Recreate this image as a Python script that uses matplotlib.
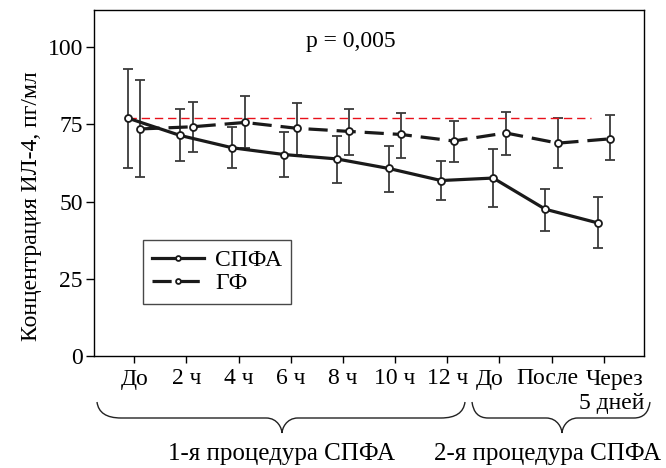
import matplotlib
matplotlib.use("Agg")
import matplotlib.pyplot as plt
import matplotlib.transforms as mtransforms
from matplotlib.path import Path
from matplotlib.patches import PathPatch
import numpy as np

plt.rcParams['font.family'] = ['Liberation Serif', 'DejaVu Serif']

# ---- data ----
tick_labels = ["До", "2 ч", "4 ч", "6 ч", "8 ч", "10 ч", "12 ч", "До", "После", "Через"]
spfa_mean = [77.0, 71.4, 67.4, 65.2, 63.8, 60.7, 56.8, 57.6, 47.5, 43.1]
spfa_up   = [93.0, 80.0, 74.2, 72.6, 71.3, 68.0, 63.1, 67.0, 53.9, 51.6]
spfa_lo   = [61.0, 63.0, 60.7, 58.0, 55.9, 53.2, 50.6, 48.2, 40.6, 35.0]
gf_mean   = [73.5, 74.2, 75.6, 73.7, 72.7, 71.7, 69.6, 72.2, 68.9, 70.3]
gf_up     = [89.3, 82.3, 84.2, 82.0, 80.1, 78.7, 76.2, 79.0, 77.1, 77.9]
gf_lo     = [57.8, 66.1, 67.2, 65.0, 65.0, 64.2, 62.7, 65.2, 60.8, 63.5]
series_names = ["СПФА", "ГФ"]
ref_value = spfa_mean[0]
p_text = "p = 0,005"
group_labels = ["1-я процедура СПФА", "2-я процедура СПФА"]
extra_label = "5 дней"
y_label = "Концентрация ИЛ-4, пг/мл"
y_ticks = [0, 25, 50, 75, 100]

W, H = 666, 468
fig = plt.figure(figsize=(W / 100, H / 100), dpi=100)
ax = fig.add_axes([94 / W, 1 - 356 / H, 550 / W, 346 / H])

x = np.arange(len(tick_labels))
off = 0.12
xs = x - off
xg = x + off

fs = 17

sm = np.array(spfa_mean); gm = np.array(gf_mean)
s_err = [sm - np.array(spfa_lo), np.array(spfa_up) - sm]
g_err = [gm - np.array(gf_lo), np.array(gf_up) - gm]

ax.errorbar(xs, sm, yerr=s_err, fmt='none', ecolor='#3a3a3a', elinewidth=1.3,
            capsize=3.8, capthick=1.3, zorder=2)
ax.errorbar(xg, gm, yerr=g_err, fmt='none', ecolor='#3a3a3a', elinewidth=1.3,
            capsize=3.8, capthick=1.3, zorder=2)

ax.hlines(ref_value, xs[0], 8.75, colors='#e8101a', linestyles=(0, (6, 3.5)),
          linewidth=1.0, zorder=3)

ax.plot(xs, sm, '-', color='#1a1a1a', lw=2.3, marker='o', ms=5, mfc='white',
        mec='#1a1a1a', mew=1.3, label=series_names[0], zorder=4)
ax.plot(xg, gm, color='#1a1a1a', lw=2.3, dashes=(6, 2.8), marker='o', ms=5,
        mfc='white', mec='#1a1a1a', mew=1.3, label=series_names[1], zorder=4)

ax.set_xlim(-0.77, 9.77)
ax.set_ylim(0, 112)
ax.set_yticks(y_ticks)
ax.set_xticks(x)
ax.set_xticklabels(tick_labels, fontsize=fs)
ax.tick_params(axis='y', labelsize=fs, length=6, width=1, pad=2, direction='out')
ax.tick_params(axis='x', length=5, width=1, pad=4, direction='out')
for sp in ax.spines.values():
    sp.set_linewidth(1.0)
ax.set_ylabel(y_label, fontsize=fs)
ax.yaxis.set_label_coords(-0.094, 0.434)

# shift some tick labels to match the crowded right side
lbls = ax.get_xticklabels()
shifts = {7: -10, 8: -4, 9: 11}
for i, dx in shifts.items():
    lbls[i].set_transform(lbls[i].get_transform() +
                          mtransforms.ScaledTranslation(dx / 100, 0, fig.dpi_scale_trans))

ax.text(0.467, 0.908, p_text, transform=ax.transAxes, ha='center', va='center', fontsize=fs)

leg = ax.legend(loc='upper left', bbox_to_anchor=(143 / W, 1 - 240 / H),
                bbox_transform=fig.transFigure, fontsize=fs, frameon=True,
                fancybox=False, edgecolor='#1a1a1a', borderaxespad=0,
                handlelength=2.2, handletextpad=0.45, labelspacing=0.08,
                borderpad=0.4, markerscale=0.7)
leg.get_frame().set_linewidth(1.0)

# ---- braces in pixel coordinates ----
pix = mtransforms.Affine2D().scale(1 / W, -1 / H).translate(0, 1) + fig.transFigure

def brace(x0, x1, tip, ytop=402, yflat=418, ytip=433, r=24):
    verts = [(x0, ytop), (x0 + 2, yflat), (x0 + r, yflat),
             (tip - 16, yflat),
             (tip - 4, yflat), (tip, ytip - 4), (tip, ytip),
             (tip, ytip - 4), (tip + 4, yflat), (tip + 16, yflat),
             (x1 - r, yflat),
             (x1 - 2, yflat), (x1, ytop)]
    codes = [Path.MOVETO, Path.CURVE3, Path.CURVE3,
             Path.LINETO,
             Path.CURVE4, Path.CURVE4, Path.CURVE4,
             Path.CURVE4, Path.CURVE4, Path.CURVE4,
             Path.LINETO,
             Path.CURVE3, Path.CURVE3]
    p = PathPatch(Path(verts, codes), transform=pix, fill=False, lw=1.0,
                  edgecolor='#222222', clip_on=False)
    fig.add_artist(p)

brace(97, 465, 282)
brace(472, 650, 562, r=16)

fig.text(644 / W, 1 - 403 / H, extra_label, ha='right', va='center', fontsize=fs)
fig.text(281 / W, 1 - 454 / H, group_labels[0], ha='center', va='center', fontsize=18)
fig.text(661 / W, 1 - 454 / H, group_labels[1], ha='right', va='center', fontsize=18)

fig.savefig("out.png", dpi=100)
